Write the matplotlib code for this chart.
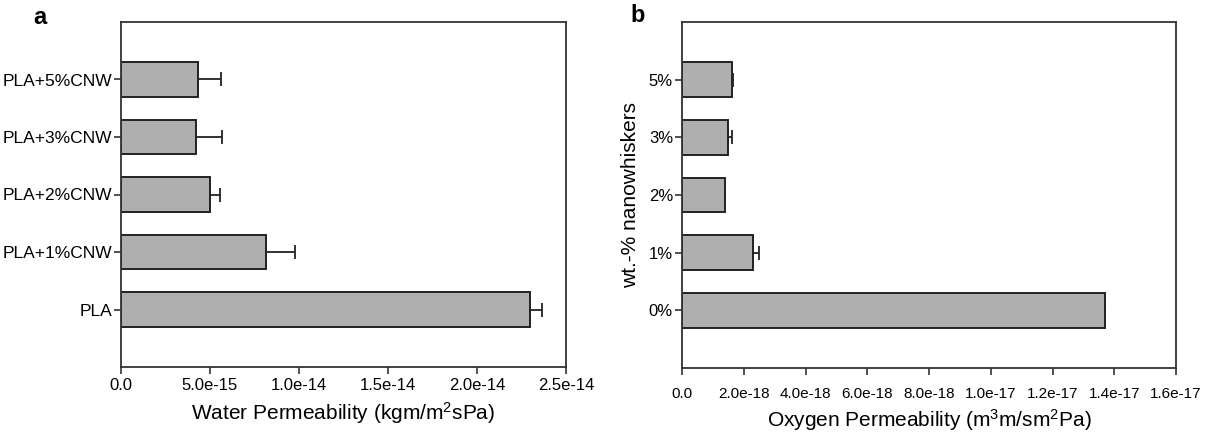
import matplotlib
matplotlib.use("Agg")
import matplotlib.pyplot as plt
from matplotlib.ticker import FuncFormatter

plt.rcParams['font.family'] = ['Liberation Sans', 'DejaVu Sans']
plt.rcParams['mathtext.fontset'] = 'custom'
plt.rcParams['mathtext.rm'] = 'Liberation Sans'
plt.rcParams['mathtext.it'] = 'Liberation Sans'

# panel a: water permeability
water_labels = ["PLA", "PLA+1%CNW", "PLA+2%CNW", "PLA+3%CNW", "PLA+5%CNW"]
water_values = [2.30e-14, 8.15e-15, 5.02e-15, 4.20e-15, 4.35e-15]
water_errors = [0.065e-14, 1.6e-15, 0.55e-15, 1.45e-15, 1.25e-15]
water_ticks = [0.0, 5.0e-15, 1.0e-14, 1.5e-14, 2.0e-14, 2.5e-14]

# panel b: oxygen permeability
oxy_labels = ["0%", "1%", "2%", "3%", "5%"]
oxy_values = [1.37e-17, 2.30e-18, 1.40e-18, 1.49e-18, 1.61e-18]
oxy_errors = [0.0, 0.19e-18, 0.0, 0.13e-18, 0.05e-18]
oxy_ticks = [0.0, 2.0e-18, 4.0e-18, 6.0e-18, 8.0e-18, 1.0e-17, 1.2e-17, 1.4e-17, 1.6e-17]

bar_color = "#afafaf"
edge = "#222222"


def sci(v, pos):
    if v == 0:
        return "0.0"
    s = "%.1e" % v
    mant, exp = s.split("e")
    return "%se%d" % (mant, int(exp))


def style(ax, ticks, tick_size, xpad):
    for sp in ax.spines.values():
        sp.set_color("#333333")
        sp.set_linewidth(1.3)
    ax.set_xticks(ticks)
    ax.xaxis.set_major_formatter(FuncFormatter(sci))
    ax.tick_params(axis="both", direction="out", length=5, width=1.2, color="#333333")
    ax.tick_params(axis="x", labelsize=tick_size, pad=xpad)
    ax.tick_params(axis="y", pad=1.5)
    ax.set_ylim(-1, 5)
    ax.set_xlim(ticks[0], ticks[-1])


fig = plt.figure(figsize=(12.14, 4.32), dpi=100)

ax1 = fig.add_axes([121 / 1214, 65 / 432, 445 / 1214, 345 / 432])
pos = list(range(len(water_labels)))
ax1.barh(pos, water_values, height=0.6, color=bar_color, edgecolor=edge, linewidth=1.4, zorder=2)
ax1.errorbar(water_values, pos, xerr=[[0] * len(pos), water_errors], fmt="none",
             ecolor=edge, elinewidth=1.3, capsize=5, capthick=1.3, zorder=1)
ax1.set_yticks(pos)
ax1.set_yticklabels(water_labels, fontsize=12.5)
style(ax1, water_ticks, 12, 3)
ax1.set_xlabel("Water Permeability (kgm/m$^2$sPa)", fontsize=15, labelpad=5)
fig.text(33 / 1214, 1 - 18 / 432, "a", fontsize=17, fontweight="bold", va="center")

ax2 = fig.add_axes([682 / 1214, 64 / 432, 494 / 1214, 346 / 432])
ax2.barh(pos, oxy_values, height=0.6, color=bar_color, edgecolor=edge, linewidth=1.4, zorder=2)
ax2.errorbar(oxy_values, pos, xerr=[[0] * len(pos), oxy_errors], fmt="none",
             ecolor=edge, elinewidth=1.3, capsize=5, capthick=1.3, zorder=1)
ax2.set_yticks(pos)
ax2.set_yticklabels(oxy_labels, fontsize=12)
style(ax2, oxy_ticks, 11, 9)
ax2.set_xlabel("Oxygen Permeability (m$^3$m/sm$^2$Pa)", fontsize=15, labelpad=4)
ax2.set_ylabel("wt.-% nanowhiskers", fontsize=15, labelpad=6)
fig.text(630 / 1214, 1 - 16 / 432, "b", fontsize=17, fontweight="bold", va="center")

fig.savefig("out.png", dpi=100)
